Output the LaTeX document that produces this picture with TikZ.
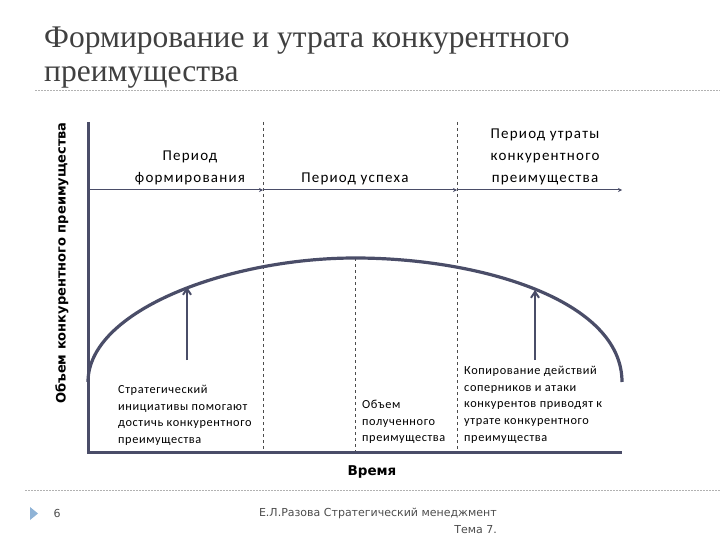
\documentclass[tikz,border=0pt]{standalone}
\usepackage{fontspec}
\setmainfont{Liberation Serif}
\newfontfamily\bodyfont[LetterSpace=8]{Carlito}
\newfontfamily\notefont[LetterSpace=5]{Carlito}
\newfontfamily\axisfont{DejaVu Sans}
\newfontfamily\footfont{DejaVu Sans}
\usetikzlibrary{arrows.meta}
\definecolor{axisc}{HTML}{4A4D68}
\definecolor{titlec}{HTML}{404040}
\definecolor{tri}{HTML}{8FB3D6}
\begin{document}
\begin{tikzpicture}[x=1pt,y=-1pt,
  period/.style={font=\bodyfont\fontsize{15}{22}\selectfont, align=center, text=black, inner sep=0pt},
  note/.style={font=\notefont\fontsize{12.3}{16.7}\selectfont, align=left, anchor=north west, text=black, inner sep=0pt},
  axisline/.style={draw=axisc, line width=3pt},
  divider/.style={draw=black!70, dashed, line width=0.6pt},
  curvestyle/.style={draw=axisc, line width=3.2pt},
  pointer/.style={draw=axisc, line width=2pt, -{Straight Barb[length=6pt,width=8pt]}},
  topline/.style={draw=axisc, line width=1pt},
  rule/.style={draw=black!30, dash pattern=on 2pt off 1pt, line width=0.6pt}]
\useasboundingbox (0,0) rectangle (720,540);

% title
\node[anchor=base west, inner sep=0pt, text=titlec, font=\fontsize{31.5}{34}\selectfont] (t1) at (44,48) {Формирование и утрата конкурентного};
\node[anchor=base west, inner sep=0pt, text=titlec, font=\fontsize{31.5}{34}\selectfont] (t2) at (44,82) {преимущества};
\draw[rule] (35,90) -- (720,90);

% y label
\node[rotate=90, inner sep=0pt, font=\axisfont\bfseries\fontsize{13}{16}\selectfont] (ylab) at (62,263) {Объем конкурентного преимущества};

% coordinates
\coordinate (o) at (88,452);
\coordinate (ytop) at (88,122);
\coordinate (xend) at (622,452);
\coordinate (d1t) at (263,122);
\coordinate (d1b) at (263,452);
\coordinate (d2t) at (457,122);
\coordinate (d2b) at (457,452);
\coordinate (pk) at (355,258);
\coordinate (pkb) at (355,452);
\coordinate (l0) at (88,190);
\coordinate (l1) at (263,190);
\coordinate (l2) at (457,190);
\coordinate (l3) at (622,190);

% dividers
\draw[divider] (d1t) -- (d1b);
\draw[divider] (d2t) -- (d2b);
\draw[divider] (pk) -- (pkb);

% top period line
\draw[topline, -{Stealth[length=4pt,width=4pt]}] (l0) -- (l1);
\draw[topline, -{Stealth[length=4pt,width=4pt]}] (l1) -- (l2);
\draw[topline, -{Stealth[length=4pt,width=4pt]}] (l2) -- (l3);

% axes
\draw[axisline] (ytop) -- (o) -- (xend);

% curve
\draw[curvestyle] (88,382) .. controls (88,310) and (230,258) .. (pk)
  .. controls (480,258) and (622,300) .. (622,382);

% pointers
\coordinate (a1s) at (187,360);
\coordinate (a1e) at (187,287);
\coordinate (a2s) at (535,360);
\coordinate (a2e) at (535,290);
\draw[pointer] (a1s) -- (a1e);
\draw[pointer] (a2s) -- (a2e);

% period labels
\node[period, anchor=base] (p1) at (190,161) {Период};
\node[period, anchor=base] (p1b) at (190,183) {формирования};
\node[period, anchor=base] (p2) at (355,183) {Период успеха};
\node[period, anchor=base] (p3a) at (545,139) {Период утраты};
\node[period, anchor=base] (p3b) at (545,161) {конкурентного};
\node[period, anchor=base] (p3c) at (545,183) {преимущества};

% notes
\node[note] (n1) at (118,385) {Стратегический\\инициативы помогают\\достичь конкурентного\\преимущества};
\node[note] (n2) at (362,400) {Объем\\полученного\\преимущества};
\node[note] (n3) at (464,366) {Копирование действий\\соперников и атаки\\конкурентов приводят к\\утрате конкурентного\\преимущества};

% x label
\node[font=\axisfont\bfseries\fontsize{13.5}{16}\selectfont, inner sep=0pt] (xlab) at (372,472) {Время};

% footer
\draw[rule] (25,490) -- (720,490);
\fill[tri] (30,507) -- (38,513.5) -- (30,520) -- cycle;
\node[font=\footfont\fontsize{11}{12}\selectfont, text=black!70, inner sep=0pt] (pg) at (57,513) {6};
\node[font=\footfont\fontsize{11}{12}\selectfont, text=black!70, inner sep=0pt, anchor=east] (f1) at (497,513) {Е.Л.Разова Стратегический менеджмент};
\node[font=\footfont\fontsize{11}{12}\selectfont, text=black!70, inner sep=0pt, anchor=east] (f2) at (497,530) {Тема 7.};
\end{tikzpicture}
\end{document}
